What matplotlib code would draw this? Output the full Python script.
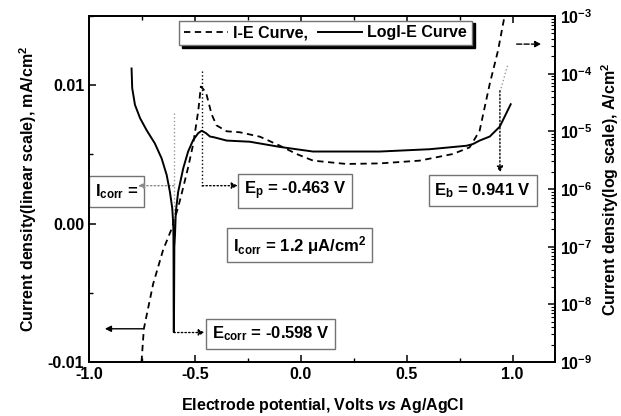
import numpy as np
import matplotlib
matplotlib.use("Agg")
from matplotlib import pyplot as plt
from matplotlib.ticker import MultipleLocator, FormatStrFormatter, LogLocator

plt.rcParams['font.family'] = ['Liberation Sans', 'DejaVu Sans']
plt.rcParams['font.weight'] = 'bold'
plt.rcParams['mathtext.fontset'] = 'custom'
plt.rcParams['mathtext.rm'] = 'Liberation Sans:bold'
plt.rcParams['mathtext.it'] = 'Liberation Sans:italic:bold'
plt.rcParams['mathtext.bf'] = 'Liberation Sans:bold'
plt.rcParams['axes.linewidth'] = 1.3

# I-E curve (linear scale), potential in V, current in mA/cm2
e_lin = [-0.752, -0.741, -0.697, -0.650, -0.610, -0.579, -0.555, -0.532, -0.508,
         -0.484, -0.472, -0.448, -0.421, -0.398, -0.350, -0.288, -0.193, -0.099,
         -0.020, 0.058, 0.215, 0.373, 0.561, 0.718, 0.797, 0.844, 0.892, 0.931, 0.962]
i_lin = [-0.0100, -0.0076, -0.00435, -0.00190, -0.00038, 0.00118, 0.00262, 0.00406,
         0.00575, 0.00816, 0.00990, 0.0095, 0.0079, 0.0071, 0.00667, 0.0066, 0.00628,
         0.00563, 0.00503, 0.00455, 0.00431, 0.00435, 0.00455, 0.00503, 0.00551,
         0.0067, 0.0101, 0.0125, 0.0150]

# LogI-E curve, log10 of current density (A/cm2)
e_log = [-0.799, -0.796, -0.783, -0.759, -0.728, -0.689, -0.657, -0.633, -0.618,
         -0.607, -0.602, -0.601, -0.600, -0.599, -0.597, -0.594, -0.590, -0.579,
         -0.555, -0.532, -0.508, -0.484, -0.468, -0.448, -0.429, -0.413, -0.350,
         -0.241, -0.099, 0.057, 0.373, 0.608, 0.782, 0.813, 0.844, 0.892, 0.939, 0.991]
logi = [-3.91, -4.25, -4.54, -4.77, -4.98, -5.21, -5.47, -5.76, -6.05,
        -6.33, -6.62, -7.00, -8.48, -8.48, -7.00, -6.80, -6.39, -6.05,
        -5.64, -5.35, -5.15, -5.03, -4.99, -5.03, -5.09, -5.10, -5.16,
        -5.18, -5.27, -5.35, -5.35, -5.31, -5.25, -5.22, -5.16, -5.09, -4.92, -4.53]

fig = plt.figure(figsize=(6.21, 4.16), dpi=100)
ax = fig.add_axes([0.1433, 0.1298, 0.7504, 0.8317])
ax2 = ax.twinx()

l1, = ax.plot(e_lin, i_lin, color='k', ls='--', dashes=(3.5, 2.5), lw=1.3)
l2, = ax2.plot(e_log, 10 ** np.array(logi), color='k', lw=1.4)
ax2.set_yscale('log')

ax.set_xlim(-1.0, 1.2)
ax.set_ylim(-0.01, 0.015)
ax2.set_ylim(1e-9, 1e-3)

ax.xaxis.set_major_locator(MultipleLocator(0.5))
ax.xaxis.set_minor_locator(MultipleLocator(0.25))
ax.xaxis.set_major_formatter(FormatStrFormatter('%.1f'))
ax.yaxis.set_major_locator(MultipleLocator(0.01))
ax.yaxis.set_minor_locator(MultipleLocator(0.005))
ax.yaxis.set_major_formatter(FormatStrFormatter('%.2f'))
ax2.yaxis.set_major_locator(LogLocator(base=10, numticks=10))
ax2.yaxis.set_minor_locator(LogLocator(base=10, subs=np.arange(2, 10), numticks=10))

ax.tick_params(which='both', direction='in', top=True, right=False, labelsize=11.5)
ax.tick_params(which='major', length=5, width=1.1)
ax.tick_params(which='minor', length=3, width=1.0)
ax2.tick_params(which='both', direction='in', labelsize=11.5)
ax2.tick_params(which='major', length=5, width=1.1)
ax2.tick_params(which='minor', length=3, width=0.8)

ax.set_xlabel(r'Electrode potential, Volts $\mathit{vs}$ Ag/AgCl', fontsize=11.5,
              fontweight='bold', labelpad=10)
ax.set_ylabel(r'Current density(linear scale), mA/cm$^{2}$', fontsize=11.5,
              fontweight='bold', labelpad=6)
ax2.set_ylabel(r'Current density(log scale), A/cm$^{2}$', fontsize=11.5,
               fontweight='bold', labelpad=5)

box = dict(boxstyle='square,pad=0.35', fc='white', ec='0.45', lw=1.0)
fs = 12
ax.text(-0.870, 0.00231, r'I$_{\mathrm{corr}}$ =', fontsize=fs, ha='center', va='center', bbox=box)
ax.text(-0.027, 0.00238, r'E$_{\mathrm{p}}$ = -0.463 V', fontsize=fs, ha='center', va='center', bbox=box)
ax.text(0.860, 0.00238, r'E$_{\mathrm{b}}$ = 0.941 V', fontsize=fs, ha='center', va='center', bbox=box)
ax.text(-0.007, -0.00155, r'I$_{\mathrm{corr}}$ = 1.2 μA/cm$^{2}$', fontsize=fs, ha='center', va='center', bbox=box)
ax.text(-0.142, -0.00797, r'E$_{\mathrm{corr}}$ = -0.598 V', fontsize=fs, ha='center', va='center', bbox=box)

arr = dict(arrowstyle='-|>', color='k', lw=1.0, mutation_scale=9, shrinkA=0, shrinkB=0)
# axis pointers
ax.annotate('', xy=(-0.925, -0.0076), xytext=(-0.745, -0.0076), arrowprops=arr)
ax.annotate('', xy=(1.135, 0.01297), xytext=(1.019, 0.01297), arrowprops=dict(arr, ls='--'))
# Icorr construction
ax.plot([-0.599, -0.599], [0.008, 0.0], color='0.6', ls=':', lw=1.0)
ax.annotate('', xy=(-0.769, 0.00274), xytext=(-0.599, 0.00274), arrowprops=dict(arr, ls=':', color='0.55'))
# Ep construction
ax.plot([-0.465, -0.465], [0.01105, 0.00274], color='k', ls=':', lw=1.0)
ax.annotate('', xy=(-0.297, 0.00274), xytext=(-0.465, 0.00274), arrowprops=dict(arr, ls=':'))
# Ecorr pointer
ax.annotate('', xy=(-0.453, -0.00787), xytext=(-0.599, -0.00787), arrowprops=dict(arr, ls=':'))
# Eb construction
ax.plot([0.976, 0.942], [0.01141, 0.0096], color='0.6', ls=':', lw=1.0)
ax.annotate('', xy=(0.940, 0.00368), xytext=(0.940, 0.0096), arrowprops=dict(arr, ls=':'))

leg = ax.legend([l1, l2], ['I-E Curve,', 'LogI-E Curve'], loc='upper center',
                bbox_to_anchor=(0.507, 0.987), borderaxespad=0, ncol=2, fontsize=11.5,
                frameon=True, fancybox=False, edgecolor='0.45', borderpad=0.3,
                handlelength=2.8, handletextpad=0.3, columnspacing=0.6,
                shadow={'color': 'black', 'alpha': 1.0})
leg.get_frame().set_linewidth(1.0)

fig.savefig('out.png', dpi=100)
